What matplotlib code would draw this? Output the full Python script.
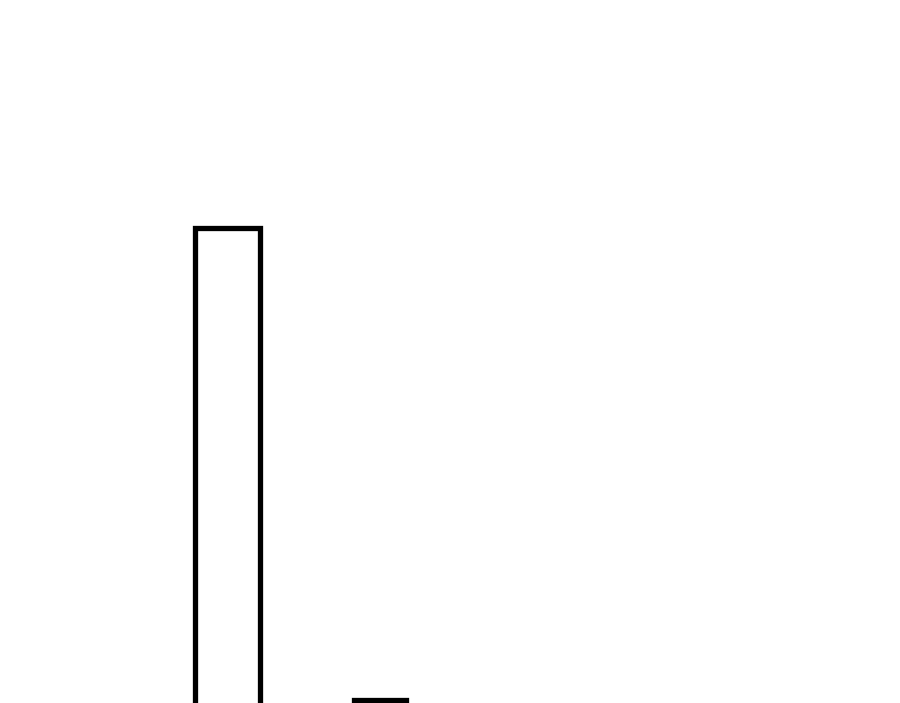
import matplotlib
matplotlib.use('Agg')
import matplotlib.pyplot as plt

# bar data (the chart is cropped, only the upper part of the bars is visible)
categories = ['A', 'B']
values = [100, 3]

fig = plt.figure(figsize=(9, 7.03), dpi=100)
ax = fig.add_axes([0, 0, 1, 1])

x = range(len(categories))
ax.bar(x, values, width=[0.42, 0.34], facecolor='white', edgecolor='black', linewidth=3.8)

ax.set_xlim(-1.492, 4.41)
ax.set_ylim(2.4, 146.9)
ax.axis('off')

fig.savefig('out.png', dpi=100, facecolor='white')
